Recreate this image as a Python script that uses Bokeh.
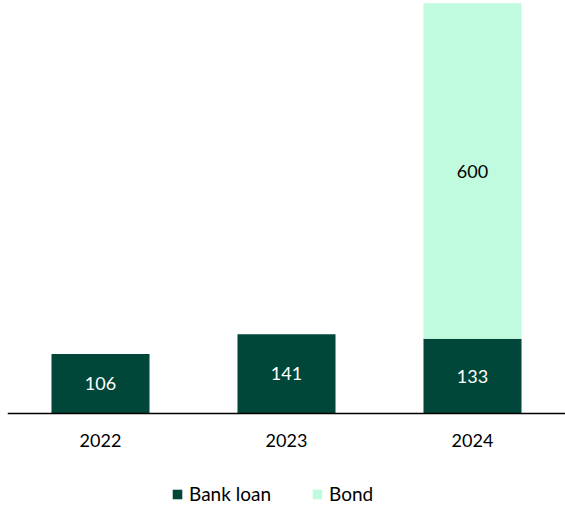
from bokeh.plotting import figure
from bokeh.models import ColumnDataSource, Range1d, Legend, LegendItem
from bokeh.core.properties import value
from bokeh.embed import file_html
from bokeh.resources import INLINE

years = ["2022", "2023", "2024"]
bank_loan = [106, 141, 133]
bond = [0, 0, 600]
series = ["Bank loan", "Bond"]
colors = ["#00473A", "#C0FBDF"]

FONT = "Lato"

src = ColumnDataSource(dict(years=years, bank=bank_loan, bond=bond))

p = figure(x_range=years, frame_width=558, frame_height=505, output_backend="svg",
           toolbar_location=None, min_border_left=7, min_border_right=0,
           min_border_top=0, min_border_bottom=0)
p.y_range = Range1d(-165, 738)

rs = p.vbar_stack(["bank", "bond"], x="years", width=0.527, source=src,
                  color=colors, line_color=None)

# labels
bank_lab = ColumnDataSource(dict(x=years, y=[b / 2 for b in bank_loan],
                                 t=[str(b) for b in bank_loan]))
p.text(x="x", y="y", text="t", source=bank_lab, text_color="white",
       text_font=value(FONT), text_font_size="18px", text_align="center",
       text_baseline="middle")
bx = [y for y, b in zip(years, bond) if b > 0]
by = [bl + b / 2 for bl, b in zip(bank_loan, bond) if b > 0]
bt = [str(b) for b in bond if b > 0]
bond_lab = ColumnDataSource(dict(x=bx, y=by, t=bt))
p.text(x="x", y="y", text="t", source=bond_lab, text_color="black",
       text_font=value(FONT), text_font_size="18px", text_align="center",
       text_baseline="middle")

p.yaxis.visible = False
p.grid.visible = False
p.outline_line_color = None
p.x_range.range_padding = 0
xa = p.xaxis[0]
xa.fixed_location = 0
xa.axis_line_color = "black"
xa.axis_line_width = 1.5
xa.major_tick_line_color = None
xa.minor_tick_line_color = None
xa.major_label_text_font = FONT
xa.major_label_text_font_size = "18px"
xa.major_label_text_color = "black"
xa.major_label_standoff = 15

legend = Legend(items=[LegendItem(label=series[i], renderers=[rs[i]]) for i in range(2)],
                orientation="horizontal", location=(164, 0),
                label_text_font=FONT, label_text_font_size="19px",
                label_text_color="black",
                glyph_width=12, glyph_height=12, spacing=40,
                label_standoff=6, border_line_color=None,
                background_fill_alpha=0,
                padding=0, margin=0)
p.add_layout(legend)

open("out.html", "w").write(file_html(p, INLINE))
